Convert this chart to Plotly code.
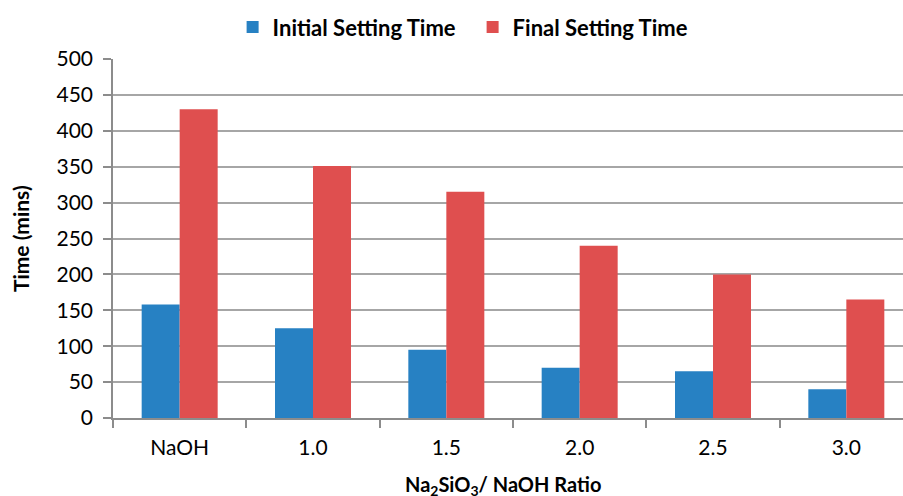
import plotly.graph_objects as go

categories = ["NaOH", "1.0", "1.5", "2.0", "2.5", "3.0"]
initial_setting = [158, 125, 95, 70, 65, 40]
final_setting = [430, 351, 315, 240, 200, 165]
y_ticks = [0, 50, 100, 150, 200, 250, 300, 350, 400, 450, 500]

FONT = "Lato"
GRID = "#A6A6A6"

fig = go.Figure()
fig.add_trace(go.Bar(x=categories, y=initial_setting, name="Initial Setting Time",
                     marker=dict(color="#2781C3", line=dict(width=0))))
fig.add_trace(go.Bar(x=categories, y=final_setting, name="Final Setting Time",
                     marker=dict(color="#DF4F4F", line=dict(width=0))))

fig.update_layout(
    width=903, height=496,
    margin=dict(l=113, r=0, t=59, b=78, autoexpand=False),
    paper_bgcolor="white", plot_bgcolor="white",
    barmode="group", bargap=0.43, bargroupgap=0,
    font=dict(family=FONT, size=20, color="#000000"),
    showlegend=True,
    legend=dict(orientation="h", xref="container", yref="container",
                x=0.2576, y=0.945, xanchor="left", yanchor="middle",
                font=dict(family=FONT, size=22, color="#000000", weight="bold"),
                entrywidth=195,
                itemsizing="constant", traceorder="normal"),
    xaxis=dict(type="category", range=[-0.5, 5.425], tickson="boundaries",
               ticks="outside", ticklen=8, tickcolor="#8C8C8C", tickwidth=1.5,
               showline=True, linecolor="#8C8C8C", linewidth=1.5,
               showgrid=False, tickfont=dict(family=FONT, size=21),
               ticklabelstandoff=10),
    yaxis=dict(range=[0, 500], tickvals=y_ticks, ticks="outside", ticklen=8,
               tickcolor="#8C8C8C", tickwidth=1.5,
               showline=True, linecolor="#8C8C8C", linewidth=1.5,
               showgrid=True, gridcolor=GRID, gridwidth=1.5, zeroline=False,
               tickfont=dict(family=FONT, size=21), ticklabelstandoff=6),
    annotations=[
        dict(text="<b>Time (mins)</b>", xref="paper", yref="paper", x=-0.117, y=0.5,
             xanchor="center", yanchor="middle", textangle=-90, showarrow=False,
             font=dict(family=FONT, size=21)),
        dict(text="<b>Na<sub>2</sub>SiO<sub>3</sub>/ NaOH Ratio</b>", xref="paper",
             yref="paper", x=0.494, y=-0.1894, xanchor="center", yanchor="middle",
             showarrow=False, font=dict(family=FONT, size=20)),
    ],
)

fig.write_html("out.html")
